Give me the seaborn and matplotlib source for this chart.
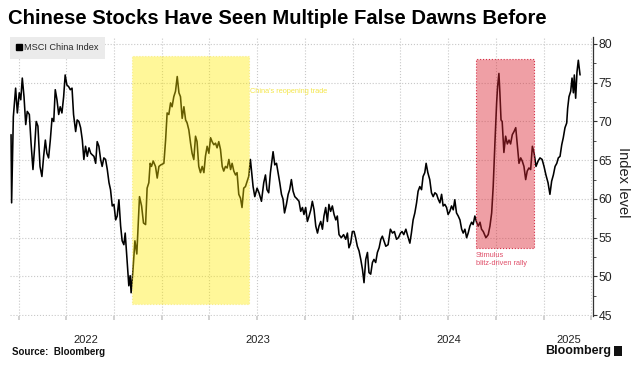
import numpy as np
import pandas as pd
import seaborn as sns
import matplotlib.pyplot as plt
import matplotlib.dates as mdates
from matplotlib.patches import Rectangle
from matplotlib.lines import Line2D

# MSCI China Index (date as decimal year)
year_frac = [
    2022.206, 2022.209, 2022.218, 2022.222, 2022.230, 2022.239, 2022.249, 2022.257, 2022.265, 2022.274,
    2022.283, 2022.291, 2022.302, 2022.311, 2022.321, 2022.330, 2022.338, 2022.347, 2022.358, 2022.368,
    2022.377, 2022.386, 2022.394, 2022.403, 2022.412, 2022.421, 2022.430, 2022.438, 2022.447, 2022.456,
    2022.464, 2022.473, 2022.482, 2022.490, 2022.499, 2022.508, 2022.517, 2022.526, 2022.534, 2022.545,
    2022.553, 2022.562, 2022.571, 2022.580, 2022.588, 2022.597, 2022.606, 2022.615, 2022.624, 2022.632,
    2022.641, 2022.650, 2022.658, 2022.667, 2022.676, 2022.684, 2022.693, 2022.702, 2022.711, 2022.720,
    2022.728, 2022.737, 2022.746, 2022.755, 2022.763, 2022.772, 2022.781, 2022.789, 2022.798, 2022.805,
    2022.812, 2022.819, 2022.824, 2022.831, 2022.836, 2022.845, 2022.856, 2022.866, 2022.880, 2022.891,
    2022.901, 2022.912, 2022.920, 2022.929, 2022.936, 2022.943, 2022.952, 2022.964, 2022.973, 2022.982,
    2022.992, 2023.008, 2023.017, 2023.025, 2023.034, 2023.043, 2023.051, 2023.060, 2023.069, 2023.078,
    2023.087, 2023.095, 2023.104, 2023.113, 2023.122, 2023.130, 2023.139, 2023.148, 2023.156, 2023.165,
    2023.174, 2023.182, 2023.191, 2023.200, 2023.209, 2023.218, 2023.226, 2023.235, 2023.244, 2023.253,
    2023.261, 2023.270, 2023.279, 2023.287, 2023.296, 2023.305, 2023.314, 2023.322, 2023.331, 2023.340,
    2023.349, 2023.358, 2023.366, 2023.375, 2023.384, 2023.392, 2023.401, 2023.410, 2023.418, 2023.427,
    2023.436, 2023.445, 2023.453, 2023.462, 2023.476, 2023.485, 2023.497, 2023.507, 2023.520, 2023.532,
    2023.541, 2023.549, 2023.558, 2023.567, 2023.581, 2023.590, 2023.599, 2023.607, 2023.616, 2023.625,
    2023.633, 2023.641, 2023.651, 2023.660, 2023.668, 2023.677, 2023.686, 2023.695, 2023.707, 2023.717,
    2023.726, 2023.735, 2023.743, 2023.752, 2023.761, 2023.770, 2023.779, 2023.787, 2023.796, 2023.805,
    2023.814, 2023.822, 2023.831, 2023.840, 2023.848, 2023.857, 2023.866, 2023.874, 2023.883, 2023.892,
    2023.901, 2023.910, 2023.918, 2023.927, 2023.939, 2023.951, 2023.962, 2023.971, 2023.979, 2023.988,
    2023.997, 2024.006, 2024.014, 2024.023, 2024.032, 2024.041, 2024.050, 2024.058, 2024.067, 2024.076,
    2024.084, 2024.093, 2024.102, 2024.110, 2024.119, 2024.128, 2024.137, 2024.146, 2024.154, 2024.172,
    2024.184, 2024.196, 2024.207, 2024.217, 2024.228, 2024.238, 2024.249, 2024.257, 2024.266, 2024.277,
    2024.287, 2024.298, 2024.306, 2024.315, 2024.324, 2024.333, 2024.341, 2024.350, 2024.359, 2024.367,
    2024.376, 2024.383, 2024.392, 2024.402, 2024.411, 2024.420, 2024.429, 2024.438, 2024.446, 2024.455,
    2024.464, 2024.472, 2024.481, 2024.490, 2024.498, 2024.507, 2024.516, 2024.525, 2024.533, 2024.542,
    2024.551, 2024.560, 2024.569, 2024.577, 2024.586, 2024.595, 2024.603, 2024.612, 2024.621, 2024.629,
    2024.638, 2024.647, 2024.656, 2024.665, 2024.673, 2024.682, 2024.696, 2024.708, 2024.717, 2024.726,
    2024.734, 2024.743, 2024.752, 2024.757, 2024.764, 2024.769, 2024.775, 2024.781, 2024.790, 2024.799,
    2024.808, 2024.817, 2024.825, 2024.834, 2024.843, 2024.852, 2024.860, 2024.869, 2024.878, 2024.886,
    2024.895, 2024.904, 2024.912, 2024.921, 2024.930, 2024.939, 2024.948, 2024.958, 2024.969, 2024.979,
    2024.990, 2025.000, 2025.010, 2025.021, 2025.031, 2025.040, 2025.049, 2025.058, 2025.067, 2025.075,
    2025.084, 2025.093, 2025.101, 2025.110, 2025.119, 2025.124, 2025.131, 2025.140, 2025.147, 2025.154,
    2025.159, 2025.166, 2025.173, 2025.180, 2025.189,
]
index_level = [
    68.3, 59.5, 70.6, 71.8, 74.3, 71.1, 73.7, 72.8, 75.6, 73.2,
    69.6, 71.3, 70.9, 67.2, 63.8, 66.8, 70.0, 69.4, 64.2, 62.9,
    65.5, 67.6, 65.9, 65.3, 67.6, 70.4, 70.0, 74.1, 72.8, 70.9,
    71.9, 71.1, 73.2, 76.0, 74.7, 74.5, 74.1, 74.3, 70.9, 68.7,
    70.2, 70.0, 69.2, 67.6, 65.1, 66.8, 65.5, 66.6, 65.9, 65.7,
    65.5, 64.6, 67.4, 66.8, 65.1, 64.2, 65.3, 65.1, 63.8, 62.1,
    61.2, 59.1, 59.3, 57.3, 57.8, 59.9, 56.5, 54.6, 54.1, 55.6,
    53.1, 50.5, 48.8, 50.1, 47.9, 50.5, 54.6, 52.9, 60.3, 59.1,
    56.9, 56.7, 61.4, 62.1, 64.6, 64.2, 64.9, 64.2, 62.7, 64.2,
    64.4, 64.6, 67.6, 71.1, 70.9, 72.4, 71.9, 73.2, 73.9, 75.8,
    73.7, 73.2, 70.4, 71.9, 70.2, 69.8, 68.9, 67.2, 65.9, 65.1,
    68.1, 67.4, 64.2, 63.4, 64.2, 63.4, 65.5, 66.8, 65.9, 67.9,
    67.4, 67.0, 67.2, 66.6, 67.4, 66.4, 64.2, 63.6, 64.2, 64.0,
    65.1, 63.8, 64.6, 63.6, 63.1, 63.4, 60.6, 60.1, 58.9, 61.4,
    61.6, 62.3, 62.9, 65.1, 61.6, 60.3, 61.4, 60.8, 59.7, 62.1,
    63.1, 61.2, 60.8, 63.4, 66.1, 64.4, 64.6, 63.4, 62.1, 60.6,
    60.0, 58.2, 59.3, 60.6, 61.2, 62.5, 61.0, 60.3, 60.0, 59.7,
    58.4, 58.9, 58.0, 58.9, 57.1, 57.8, 58.6, 59.7, 58.6, 56.5,
    55.6, 56.5, 57.1, 56.1, 57.8, 58.9, 57.1, 59.3, 58.4, 59.1,
    58.0, 57.3, 57.8, 55.4, 55.0, 55.4, 54.8, 55.6, 53.7, 54.3,
    55.8, 55.8, 55.0, 53.9, 53.3, 52.2, 50.9, 49.2, 52.2, 53.1,
    50.5, 50.3, 51.8, 52.2, 51.8, 53.1, 53.7, 54.8, 55.2, 53.9,
    54.1, 56.1, 55.6, 55.8, 54.8, 55.0, 55.6, 55.8, 55.4, 56.1,
    55.2, 54.3, 55.6, 57.3, 58.2, 59.5, 61.0, 61.6, 61.2, 62.9,
    63.4, 64.6, 63.4, 62.5, 60.8, 60.3, 60.8, 60.6, 60.0, 59.5,
    60.6, 59.1, 59.3, 58.9, 58.0, 58.4, 59.1, 58.6, 59.9, 58.2,
    57.8, 57.3, 56.1, 55.6, 56.1, 55.0, 55.6, 56.5, 57.0, 56.7,
    57.8, 57.0, 56.5, 57.0, 56.1, 55.8, 55.0, 55.4, 56.5, 58.2,
    61.6, 67.2, 72.4, 74.5, 76.2, 73.7, 70.2, 70.0, 66.0, 68.1,
    67.1, 67.6, 67.1, 68.3, 68.7, 69.2, 67.0, 64.6, 65.3, 64.9,
    64.2, 62.5, 63.6, 64.0, 63.8, 66.8, 65.9, 64.2, 64.9, 65.3,
    65.1, 64.2, 63.1, 62.1, 60.6, 62.3, 63.1, 64.2, 64.6, 65.3,
    65.5, 67.0, 67.9, 69.2, 69.8, 71.7, 73.2, 73.9, 75.6, 73.7,
    76.0, 73.0, 76.4, 77.9, 76.0,
]

# highlighted episodes
reopening_dates = ("2022-11-04", "2023-06-16")
reopening_levels = (46.4, 78.45)
reopening_label = "China's reopening trade"
stimulus_dates = ("2024-08-23", "2024-12-12")
stimulus_levels = (53.7, 78.1)
stimulus_label = "Stimulus\nblitz-driven rally"

x_range = (2022.2005, 2025.257)
y_range = (44.9, 80.9)
y_ticks = [45, 50, 55, 60, 65, 70, 75, 80]
years = [2022, 2023, 2024, 2025]


def frac_to_date(t):
    year = int(t)
    start = pd.Timestamp(year, 1, 1)
    length = (pd.Timestamp(year + 1, 1, 1) - start).days
    return start + pd.Timedelta(days=(t - year) * length)


sns.set_theme(style="white")
plt.rcParams['font.family'] = ['Liberation Sans', 'DejaVu Sans']

df = pd.DataFrame({"date": [frac_to_date(t) for t in year_frac], "level": index_level})

fig = plt.figure(figsize=(6.36, 3.78), dpi=100)
ax = fig.add_axes([10 / 636, 1 - 316 / 378, 583 / 636, 279 / 378])

sns.lineplot(data=df, x="date", y="level", color="black", lw=1.15, ax=ax, zorder=2)

# shaded boxes (drawn over the line, like the original)
def add_box(dates, levels, face, edge):
    x0 = mdates.date2num(pd.Timestamp(dates[0]))
    x1 = mdates.date2num(pd.Timestamp(dates[1]))
    ax.add_patch(Rectangle((x0, levels[0]), x1 - x0, levels[1] - levels[0],
                           facecolor=face, edgecolor=edge, lw=0.8, ls=":", zorder=3))
    return x0, x1

rx0, rx1 = add_box(reopening_dates, reopening_levels, (1.0, 0.92, 0.0, 0.40), (0.95, 0.88, 0.3, 0.5))
sx0, sx1 = add_box(stimulus_dates, stimulus_levels, (0.86, 0.15, 0.2, 0.44), (0.82, 0.12, 0.22, 0.9))

ax.text(rx1 + 2, 73.9, reopening_label, color="#f4e64a", fontsize=5.3, va="center", ha="left", zorder=4)
ax.text(sx0 + 1, 53.2, stimulus_label, color="#e0506a", fontsize=5.3, va="top", ha="left",
        linespacing=1.25, zorder=4)

xmin = mdates.date2num(frac_to_date(x_range[0]))
xmax = mdates.date2num(frac_to_date(x_range[1]))
ax.set_xlim(xmin, xmax)
ax.set_ylim(*y_range)

# quarterly gridlines, year labels centred on the visible part of each year
ax.xaxis.set_major_locator(mdates.MonthLocator(bymonth=[1, 4, 7, 10]))
ax.xaxis.set_major_formatter(plt.NullFormatter())
mids = []
for yr in years:
    lo = max(mdates.date2num(pd.Timestamp(yr, 1, 1)), xmin)
    hi = min(mdates.date2num(pd.Timestamp(yr + 1, 1, 1)), xmax)
    mids.append((lo + hi) / 2)
ax.set_xticks(mids, minor=True)
ax.set_xticklabels([str(y) for y in years], minor=True)
ax.tick_params(axis="x", which="minor", length=0, pad=14, labelsize=8, labelcolor="#222222")
ax.tick_params(axis="x", which="major", length=3, color="#cccccc", bottom=True)

ax.yaxis.tick_right()
ax.set_yticks(y_ticks)
ax.set_yticks(np.arange(47.5, 80, 5), minor=True)
ax.tick_params(axis="y", which="major", length=3, width=0.8, color="#333333", pad=1,
               labelsize=8.8, labelcolor="#222222", right=True)
ax.tick_params(axis="y", which="minor", length=2, width=0.6, color="#333333", right=True)

ax.grid(True, which="major", color="#c8c8c8", ls=":", lw=0.8)
for side in ["left", "top", "bottom"]:
    ax.spines[side].set_visible(False)
ax.spines["right"].set_color("#333333")
ax.spines["right"].set_linewidth(0.9)

ax.set_xlabel("")
ax.yaxis.set_label_position("right")
ax.set_ylabel("Index level", rotation=270, fontsize=10.5, color="#222222", va="center")
ax.yaxis.set_label_coords(1.0515, 0.48)

handle = Line2D([], [], marker="s", color="black", linestyle="None", markersize=4.5)
ax.legend([handle], ["MSCI China Index"], loc="upper left", bbox_to_anchor=(0, 1),
          frameon=True, fancybox=False, facecolor="#ebebeb", edgecolor="none", framealpha=1,
          fontsize=6.6, handlelength=0.5, handletextpad=0.3, borderpad=0.7, borderaxespad=0)

fig.text(8 / 636, 1 - 18 / 378, "Chinese Stocks Have Seen Multiple False Dawns Before",
         fontsize=14.6, weight="bold", va="center", ha="left", color="black")
fig.text(12 / 636, 1 - 352 / 378, "Source:  Bloomberg", fontsize=7, weight="bold",
         va="center", ha="left", color="#111111")
fig.text(611 / 636, 1 - 351 / 378, "Bloomberg", fontsize=9, weight="bold",
         va="center", ha="right", color="#111111")
fig.patches.append(Rectangle((614 / 636, 1 - 356 / 378), 8 / 636, 10 / 378,
                             transform=fig.transFigure, facecolor="#111111", edgecolor="none"))

fig.savefig("out.png", dpi=100)
